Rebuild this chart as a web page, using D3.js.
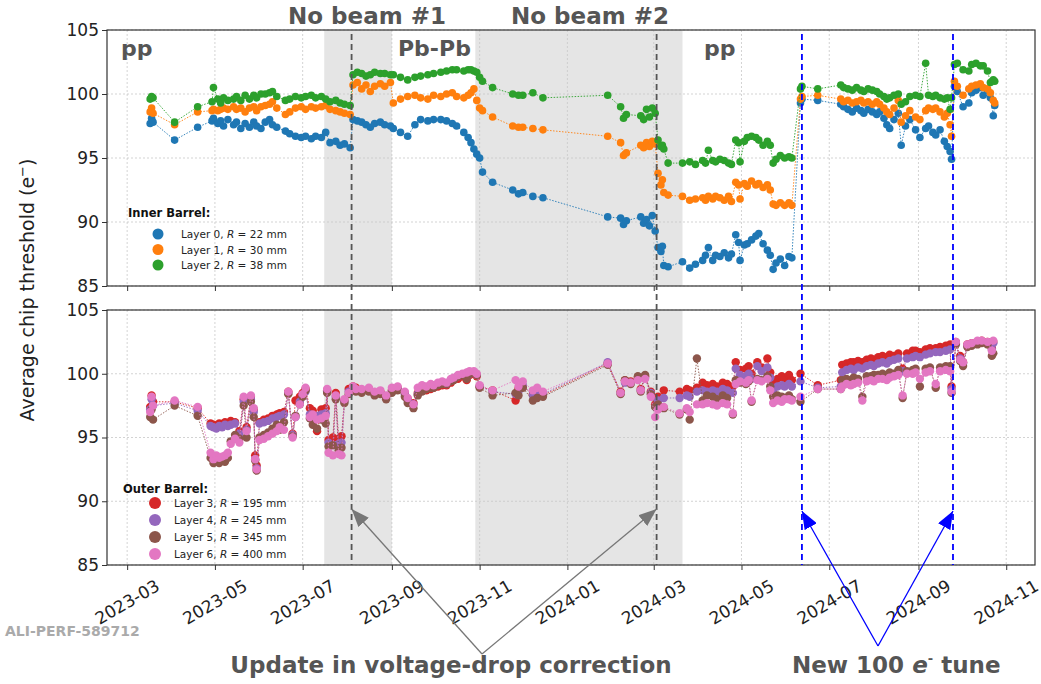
<!DOCTYPE html>
<html>
<head>
<meta charset="utf-8">
<script src="https://cdn.jsdelivr.net/npm/d3@7"></script>
<style>
  body { margin: 0; background: #fff; }
  text { font-family: 'DejaVu Sans', sans-serif; }
</style>
</head>
<body>
<div id="chart"></div>
<script>
// ---------- data ----------
const ibDates = [
  '2023-03-17','2023-03-18','2023-03-19','2023-04-03','2023-04-19','2023-04-29','2023-04-30','2023-05-03','2023-05-05','2023-05-07',
  '2023-05-10','2023-05-14','2023-05-16','2023-05-19','2023-05-22','2023-05-25','2023-05-28','2023-05-30','2023-06-02','2023-06-05',
  '2023-06-08','2023-06-10','2023-06-13','2023-06-19','2023-06-22','2023-06-26','2023-06-30','2023-07-03','2023-07-07','2023-07-10',
  '2023-07-14','2023-07-17','2023-07-20','2023-07-24','2023-07-27','2023-07-30','2023-08-03','2023-08-05','2023-08-08','2023-08-11',
  '2023-08-14','2023-08-17','2023-08-20','2023-08-24','2023-08-27','2023-08-31','2023-09-02','2023-09-07','2023-09-12','2023-09-17',
  '2023-09-21','2023-09-26','2023-09-30','2023-10-05','2023-10-09','2023-10-13','2023-10-16','2023-10-21','2023-10-24','2023-10-26',
  '2023-10-28','2023-10-30','2023-11-01','2023-11-03','2023-11-10','2023-11-24','2023-11-28','2023-12-01','2023-12-08','2023-12-15',
  '2024-01-29','2024-02-07','2024-02-09','2024-02-11','2024-02-21','2024-02-23','2024-02-25','2024-02-27','2024-02-29','2024-03-02',
  '2024-03-04','2024-03-06','2024-03-07','2024-03-08','2024-03-11','2024-03-21','2024-03-26','2024-03-30','2024-04-04','2024-04-06',
  '2024-04-08','2024-04-11','2024-04-13','2024-04-16','2024-04-19','2024-04-22','2024-04-24','2024-04-27','2024-04-29','2024-04-30',
  '2024-05-03','2024-05-05','2024-05-08','2024-05-11','2024-05-13','2024-05-16','2024-05-19','2024-05-21','2024-05-23','2024-05-25',
  '2024-05-28','2024-05-31','2024-06-03','2024-06-05','2024-06-11','2024-06-12','2024-06-23','2024-07-09','2024-07-11','2024-07-14',
  '2024-07-17','2024-07-20','2024-07-23','2024-07-25','2024-07-28','2024-07-31','2024-08-03','2024-08-05','2024-08-08','2024-08-10',
  '2024-08-12','2024-08-15','2024-08-18','2024-08-20','2024-08-23','2024-08-26','2024-08-30','2024-09-02','2024-09-06','2024-09-08',
  '2024-09-11','2024-09-13','2024-09-16','2024-09-19','2024-09-21','2024-09-23','2024-09-24','2024-09-26','2024-09-28','2024-10-02',
  '2024-10-06','2024-10-08','2024-10-11','2024-10-14','2024-10-16','2024-10-19','2024-10-21','2024-10-23','2024-10-24'
];
const layer0 = [
  97.7,98.1,97.8,96.4,97.4,97.9,98.1,97.7,97.9,97.5, 98.0,97.6,97.8,97.3,97.7,97.4,97.8,97.5,97.3,97.8,
  98.0,97.6,97.4,97.1,96.9,96.7,96.6,96.7,96.5,96.7, 96.6,97.0,96.2,96.3,96.0,96.1,95.8,98.0,97.9,97.8,
  97.6,97.4,97.7,97.8,97.6,97.5,97.3,97.0,96.7,97.6, 98.0,97.9,98.0,98.0,97.9,97.7,97.5,97.0,96.6,96.2,
  95.7,95.3,95.0,93.9,93.1,92.5,92.2,92.3,92.0,91.9, 90.4,90.3,89.8,90.1,90.4,89.9,90.2,89.7,90.5,89.3,
  88.0,87.7,88.1,86.6,86.5,86.9,86.4,86.7,87.0,87.4, 88.0,87.0,87.4,87.3,87.6,87.2,87.5,89.0,88.4,87.0,
  88.2,88.3,88.6,88.9,89.1,88.3,87.8,87.4,86.3,86.8, 87.1,86.6,87.3,87.2,99.3,99.6,99.5,99.2,99.0,98.8,
  98.6,98.9,98.7,98.5,98.8,98.6,98.4,98.6,98.1,97.6, 97.3,98.0,98.5,96.0,97.5,98.0,97.2,96.6,97.3,97.5,
  97.0,96.8,97.2,96.3,95.9,95.5,94.9,100.6,100.2,99.0, 99.3,100.1,100.3,100.5,99.9,100.3,99.7,98.3,99.1
];
const layer1 = [
  98.6,98.9,98.5,97.6,98.6,98.7,98.8,98.7,98.8,98.9, 98.8,99.0,98.8,98.9,98.6,98.9,99.0,98.7,99.0,99.1,
  99.2,99.4,98.9,98.4,98.6,98.9,99.0,98.8,99.0,98.9, 99.0,99.1,98.8,98.7,98.6,98.5,98.4,100.7,100.9,100.4,
  100.7,100.2,100.6,100.8,100.6,100.9,99.3,99.6,99.8,99.9, 99.7,99.6,99.9,99.8,100.0,100.1,99.8,99.7,99.9,100.1,
  100.4,99.5,98.9,98.7,98.2,97.5,97.4,97.4,97.3,97.2, 96.7,96.2,95.2,95.4,96.0,95.8,96.2,95.9,96.3,96.1,
  93.8,92.9,93.3,92.3,92.1,92.0,91.7,91.8,91.9,91.7, 92.0,91.8,92.0,91.9,91.7,92.0,91.6,93.1,92.9,91.8,
  93.0,92.8,93.2,92.9,93.0,92.7,92.9,92.5,91.4,91.3, 91.5,91.3,91.5,91.3,99.6,99.8,99.9,99.6,99.4,99.5,
  99.3,99.4,99.5,99.3,99.4,99.2,99.4,99.2,98.9,98.6, 98.4,98.9,99.5,97.8,98.3,98.7,98.2,98.0,98.7,98.9,
  98.8,98.9,98.6,98.2,98.5,97.6,96.7,101.0,100.6,99.9, 100.4,100.6,100.7,100.8,100.5,100.4,100.1,99.5,99.3
];
const layer2 = [
  99.6,99.8,99.7,97.8,99.0,99.4,100.5,99.6,99.3,99.7, 99.5,99.6,99.8,99.5,99.9,99.6,99.9,99.7,100.0,100.0,
  100.1,100.2,99.8,99.5,99.6,99.8,99.7,99.8,99.9,99.7, 99.8,99.6,99.4,99.5,99.3,99.2,99.1,101.5,101.7,101.6,
  101.4,101.5,101.7,101.6,101.6,101.5,101.5,101.3,101.1,101.3, 101.4,101.5,101.6,101.7,101.8,101.9,101.9,101.8,101.9,101.9,
  101.8,101.7,101.3,101.0,100.5,100.0,99.9,99.9,100.1,99.7, 99.9,99.0,98.1,98.4,98.3,98.0,98.8,98.2,98.9,98.5,
  96.4,95.9,96.0,95.7,94.6,94.6,94.7,94.5,94.8,94.6, 95.6,94.8,94.7,94.9,94.8,94.6,94.5,96.4,96.2,94.7,
  96.3,96.6,96.7,96.6,96.4,96.0,96.3,96.0,94.6,94.9, 95.2,95.0,95.1,95.0,100.4,100.6,100.4,100.7,100.5,100.4,
  100.3,100.5,100.3,100.2,100.4,100.3,100.2,100.0,99.8,99.6, 99.7,99.9,100.0,99.2,99.4,99.8,99.9,99.8,102.4,99.9,
  99.8,99.9,99.7,99.6,99.7,98.8,99.7,102.3,102.4,101.9, 101.8,102.3,102.4,102.2,102.2,101.8,100.9,101.1,101.0
];

const obDates = [
  '2023-03-17','2023-03-18','2023-03-19','2023-04-03','2023-04-19','2023-04-28','2023-04-30','2023-05-02','2023-05-04','2023-05-06',
  '2023-05-08','2023-05-10','2023-05-12','2023-05-15','2023-05-18','2023-05-21','2023-05-23','2023-05-26','2023-05-28','2023-05-29',
  '2023-05-30','2023-06-01','2023-06-04','2023-06-07','2023-06-10','2023-06-13','2023-06-15','2023-06-18','2023-06-21','2023-06-24',
  '2023-06-26','2023-06-29','2023-07-01','2023-07-03','2023-07-06','2023-07-08','2023-07-11','2023-07-14','2023-07-17','2023-07-18',
  '2023-07-19','2023-07-22','2023-07-24','2023-07-26','2023-07-28','2023-07-30','2023-08-02','2023-08-05','2023-08-07','2023-08-11',
  '2023-08-16','2023-08-20','2023-08-24','2023-08-28','2023-09-01','2023-09-05','2023-09-10','2023-09-12','2023-09-16','2023-09-19',
  '2023-09-22','2023-09-25','2023-09-28','2023-09-30','2023-10-03','2023-10-06','2023-10-09','2023-10-12','2023-10-14','2023-10-17',
  '2023-10-20','2023-10-23','2023-10-25','2023-10-28','2023-10-30','2023-11-01','2023-11-10','2023-11-26','2023-11-28','2023-12-01',
  '2023-12-08','2023-12-11','2023-12-15','2024-01-29','2024-02-07','2024-02-10','2024-02-14','2024-02-19','2024-02-21','2024-02-24',
  '2024-02-28','2024-03-02','2024-03-04','2024-03-08','2024-03-19','2024-03-24','2024-03-26','2024-03-31','2024-04-04','2024-04-07',
  '2024-04-11','2024-04-14','2024-04-18','2024-04-21','2024-04-25','2024-04-27','2024-04-30','2024-05-04','2024-05-06','2024-05-08',
  '2024-05-12','2024-05-15','2024-05-19','2024-05-21','2024-05-23','2024-05-26','2024-05-29','2024-05-31','2024-06-03','2024-06-05',
  '2024-06-11','2024-06-23','2024-07-09','2024-07-10','2024-07-13','2024-07-16','2024-07-18','2024-07-21','2024-07-24','2024-07-27',
  '2024-07-30','2024-08-01','2024-08-04','2024-08-07','2024-08-10','2024-08-12','2024-08-15','2024-08-18','2024-08-21','2024-08-24',
  '2024-08-28','2024-08-30','2024-09-02','2024-09-06','2024-09-09','2024-09-13','2024-09-16','2024-09-20','2024-09-23','2024-09-24',
  '2024-09-27','2024-09-30','2024-10-02','2024-10-05','2024-10-08','2024-10-12','2024-10-15','2024-10-19','2024-10-22','2024-10-23'
];
const layer3 = [
  97.4,98.3,97.8,97.8,97.3,96.1,96.0,95.9,96.1,96.0, 96.2,96.1,96.3,96.2,95.5,98.0,95.8,98.2,97.2,93.6,
  92.8,96.2,96.4,96.5,96.7,96.8,96.9,97.0,98.6,95.3, 97.9,98.2,98.5,98.8,97.3,97.1,95.5,97.2,97.3,98.7,
  94.8,95.0,98.5,94.9,95.1,97.9,98.8,99.0,98.9,98.7, 98.8,98.5,98.6,98.2,98.7,98.9,98.5,98.0,97.7,98.5,
  98.7,98.7,98.8,98.9,99.0,99.1,99.1,99.3,99.5,99.6, 99.8,99.5,99.9,100.0,99.8,99.0,98.7,97.9,98.8,99.0,
  98.4,98.5,98.3,100.8,98.6,99.5,99.4,99.7,98.8,99.8, 98.6,97.6,98.2,98.7,98.6,98.8,98.7,98.9,99.3,99.1,
  99.2,99.0,99.3,99.2,99.0,100.9,100.3,100.4,100.6,100.0, 100.9,100.5,101.2,100.1,99.3,99.6,99.8,99.6,99.9,99.5,
  100.0,99.1,99.5,100.7,100.8,100.9,100.9,101.0,100.9,101.1, 101.2,101.1,101.3,101.4,101.3,101.5,101.4,101.6,100.4,101.6,
  101.8,101.8,101.7,101.9,102.0,102.0,102.1,102.2,102.3,99.0, 102.5,101.4,100.9,102.3,102.4,102.5,102.6,102.5,102.0,102.5
];
const layer4 = [
  97.2,98.0,97.5,97.7,97.1,95.9,95.8,95.7,95.9,95.8, 96.0,95.9,96.0,96.1,95.3,97.8,95.6,98.0,97.0,93.3,
  92.6,96.1,96.2,96.3,96.5,96.6,96.7,96.8,98.5,95.2, 96.6,97.8,98.3,98.6,96.8,96.6,96.7,96.8,96.9,98.6,
  94.6,94.4,98.2,94.5,94.6,97.8,98.6,98.9,98.7,98.6, 98.7,98.4,98.5,98.1,98.6,98.8,98.4,97.9,97.6,98.4,
  98.8,98.9,99.0,99.0,99.2,99.3,99.2,99.5,99.6,99.8, 99.9,99.7,100.0,100.1,99.9,99.0,98.6,98.4,98.6,99.1,
  98.3,98.4,98.4,100.9,98.5,99.3,99.3,99.6,98.7,99.7, 98.5,97.4,97.9,98.1,98.1,98.3,98.2,98.6,98.7,98.6,
  98.7,98.6,98.8,98.7,98.5,100.4,99.9,99.8,100.0,99.6, 100.6,100.2,100.5,99.7,98.7,99.0,99.1,99.0,99.2,99.0,
  99.4,98.9,99.0,100.1,100.3,100.4,100.3,100.5,100.4,100.6, 100.7,100.6,100.8,100.9,100.8,101.0,101.1,101.2,100.2,101.2,
  101.3,101.4,101.3,101.5,101.6,101.7,101.7,101.8,101.9,98.8, 102.4,101.2,100.8,102.2,102.3,102.4,102.5,102.4,101.9,102.4
];
const layer5 = [
  96.6,97.2,96.4,97.5,96.7,93.4,93.0,93.2,93.0,93.3, 93.1,93.4,94.7,95.2,94.9,97.5,95.0,97.8,96.6,93.2,
  92.4,95.0,95.2,95.4,95.7,96.0,95.6,96.2,98.4,95.1, 96.7,97.6,98.2,98.7,96.5,96.0,95.7,96.4,96.1,98.5,
  94.3,94.4,98.0,94.0,94.2,97.7,98.4,98.8,98.6,98.5, 98.6,98.3,98.4,98.0,98.5,98.7,98.2,97.7,97.3,98.3,
  98.6,98.8,98.9,98.9,99.1,99.2,99.2,99.4,99.5,99.8, 99.9,99.6,100.0,100.1,99.9,98.9,98.3,98.5,98.3,98.9,
  97.9,98.1,98.2,100.7,98.4,99.5,99.2,99.8,98.6,99.9, 98.4,97.4,97.6,97.3,96.8,97.2,96.4,101.2,97.9,98.3,
  98.2,98.0,98.3,98.1,96.8,99.5,99.3,99.2,99.4,97.8, 99.6,99.5,99.8,99.0,98.2,98.3,98.2,98.1,98.3,98.0,
  97.8,98.8,98.8,99.5,99.6,99.5,99.7,99.6,98.2,99.8, 99.8,99.9,99.9,100.0,99.9,100.1,100.0,100.3,98.1,100.2,
  100.3,100.4,99.0,100.4,100.5,98.9,100.5,100.6,100.6,98.5, 102.3,101.0,100.6,102.1,102.2,102.3,102.4,102.3,101.4,101.6
];
const layer6 = [
  97.0,98.2,97.5,97.9,97.4,93.8,93.3,93.6,93.4,93.5, 93.6,93.8,94.5,94.9,94.6,98.2,95.5,98.3,97.3,93.3,
  92.5,94.8,94.9,95.1,95.3,95.5,95.8,95.6,98.6,95.0, 96.6,97.6,98.4,98.9,96.6,96.8,96.4,96.5,96.7,98.8,
  93.8,93.6,98.3,93.7,93.6,98.0,98.5,99.0,98.8,98.8, 98.9,98.6,98.7,98.3,98.9,99.0,98.6,98.1,97.6,98.9,
  99.1,99.0,99.2,99.1,99.3,99.4,99.3,99.6,99.7,99.9, 100.0,100.1,100.2,100.2,100.0,99.1,98.7,99.5,99.0,99.4,
  98.7,98.9,98.6,100.8,98.5,99.4,99.3,99.5,98.7,99.6, 98.2,96.6,97.2,97.4,96.9,97.3,97.0,97.6,97.6,97.7,
  97.6,97.5,97.7,97.6,96.9,99.2,99.4,99.3,99.5,97.9, 99.5,99.4,99.6,98.7,97.7,97.9,97.8,98.0,98.0,97.9,
  98.2,98.8,98.8,99.0,99.2,99.1,99.2,99.3,97.9,99.4, 99.5,99.4,99.6,99.6,99.5,99.7,99.8,99.9,98.3,100.0,
  100.0,100.1,99.6,100.1,100.2,99.2,100.2,100.3,100.2,98.6, 102.5,101.1,100.9,102.3,102.4,102.6,102.6,102.5,101.8,102.6
];

const monthTicks = ['2023-03','2023-05','2023-07','2023-09','2023-11','2024-01','2024-03','2024-05','2024-07','2024-09','2024-11'];
const yTicks = [85, 90, 95, 100, 105];
const noBeamPeriods = [['2023-07-16', '2023-09-01'], ['2023-10-29', '2024-03-21']];
const correctionDates = ['2023-08-04', '2024-03-03'];
const tuneDates = ['2024-06-12', '2024-09-25'];

// ---------- layout ----------
const width = 1041, height = 684;
const parseDate = d3.timeParse('%Y-%m-%d');
const parseMonth = d3.timeParse('%Y-%m');
const labelFont = "'Liberation Sans', Arial, sans-serif";

const svg = d3.select('#chart').append('svg')
  .attr('width', width)
  .attr('height', height);

const x = d3.scaleTime()
  .domain([parseDate('2023-02-15'), parseDate('2024-11-21')])
  .range([107, 1035]);

const panels = [
  {
    top: 30, bottom: 286, dates: ibDates, r: 3.8,
    title: 'Inner Barrel:',
    series: [
      {values: layer0, color: '#1f77b4', name: 'Layer 0', radius: '22'},
      {values: layer1, color: '#ff7f0e', name: 'Layer 1', radius: '30'},
      {values: layer2, color: '#2ca02c', name: 'Layer 2', radius: '38'}
    ],
    legend: {tx: 128, ty: 217, cx: 158, lx: 181, y0: 234, step: 15.5, r: 5.5}
  },
  {
    top: 310, bottom: 565, dates: obDates, r: 4.2,
    title: 'Outer Barrel:',
    series: [
      {values: layer3, color: '#d62728', name: 'Layer 3', radius: '195'},
      {values: layer4, color: '#9467bd', name: 'Layer 4', radius: '245'},
      {values: layer5, color: '#8c564b', name: 'Layer 5', radius: '345'},
      {values: layer6, color: '#e377c2', name: 'Layer 6', radius: '400'}
    ],
    legend: {tx: 123, ty: 493, cx: 155, lx: 174, y0: 503, step: 17, r: 6}
  }
];

panels.forEach((p, pi) => {
  let y = d3.scaleLinear().domain([85, 105]).range([p.bottom, p.top]);
  let g = svg.append('g');

  // no-beam shading
  g.selectAll('rect.shade')
    .data(noBeamPeriods)
    .enter().append('rect')
    .attr('x', d => x(parseDate(d[0])))
    .attr('y', p.top)
    .attr('width', d => x(parseDate(d[1])) - x(parseDate(d[0])))
    .attr('height', p.bottom - p.top)
    .attr('fill', '#e5e5e5');

  // grid
  g.selectAll('line.vgrid')
    .data(monthTicks)
    .enter().append('line')
    .attr('x1', d => x(parseMonth(d))).attr('x2', d => x(parseMonth(d)))
    .attr('y1', p.top).attr('y2', p.bottom)
    .attr('stroke', '#c8c8c8').attr('stroke-width', 0.8)
    .attr('stroke-dasharray', '2,2');
  g.selectAll('line.hgrid')
    .data(yTicks)
    .enter().append('line')
    .attr('x1', 107).attr('x2', 1035)
    .attr('y1', d => y(d)).attr('y2', d => y(d))
    .attr('stroke', '#c8c8c8').attr('stroke-width', 0.8)
    .attr('stroke-dasharray', '2,2');

  // series
  let line = d3.line()
    .x(d => x(d.date))
    .y(d => y(d.value));

  p.series.forEach(s => {
    let pts = p.dates.map((d, i) => ({date: parseDate(d), value: s.values[i]}));
    g.append('path')
      .datum(pts)
      .attr('d', line)
      .attr('fill', 'none')
      .attr('stroke', s.color)
      .attr('stroke-width', 0.9)
      .attr('stroke-dasharray', '1.5,1.5');
    g.append('g').selectAll('circle')
      .data(pts)
      .enter().append('circle')
      .attr('cx', d => x(d.date))
      .attr('cy', d => y(d.value))
      .attr('r', p.r)
      .attr('fill', s.color);
  });

  // axes
  let yAxis = g.append('g')
    .attr('transform', 'translate(107,0)')
    .call(d3.axisLeft(y).tickValues(yTicks).tickSize(5).tickPadding(3));
  yAxis.select('.domain').remove();
  yAxis.selectAll('line').attr('stroke', '#333');
  yAxis.selectAll('text').attr('font-size', 17).attr('fill', '#222')
    .attr('font-family', "'DejaVu Sans', sans-serif");

  let xAxis = g.append('g')
    .attr('transform', 'translate(0,' + p.bottom + ')')
    .call(d3.axisBottom(x).tickValues(monthTicks.map(parseMonth)).tickSize(5).tickFormat(''));
  xAxis.select('.domain').remove();
  xAxis.selectAll('line').attr('stroke', '#333');

  // frame
  g.append('rect')
    .attr('x', 107).attr('y', p.top)
    .attr('width', 1035 - 107).attr('height', p.bottom - p.top)
    .attr('fill', 'none').attr('stroke', '#333').attr('stroke-width', 1.2);

  // legend
  let L = p.legend;
  g.append('text')
    .attr('x', L.tx).attr('y', L.ty)
    .attr('font-family', labelFont).attr('font-weight', 'bold')
    .attr('font-size', 11.5).attr('fill', '#111')
    .text(p.title);
  let items = g.selectAll('g.leg')
    .data(p.series)
    .enter().append('g')
    .attr('transform', (d, i) => 'translate(0,' + (L.y0 + i * L.step) + ')');
  items.append('circle')
    .attr('cx', L.cx).attr('cy', 0).attr('r', L.r)
    .attr('fill', d => d.color);
  let lt = items.append('text')
    .attr('x', L.lx).attr('y', 4)
    .attr('font-family', labelFont).attr('font-size', 10.5).attr('fill', '#222');
  lt.append('tspan').text(d => d.name + ', ');
  lt.append('tspan').attr('font-style', 'italic').text('R');
  lt.append('tspan').text(d => ' = ' + d.radius + ' mm');
});

// x tick labels (bottom panel only)
svg.append('g').selectAll('text')
  .data(monthTicks)
  .enter().append('text')
  .attr('transform', d => 'translate(' + x(parseMonth(d)) + ',602) rotate(-30)')
  .attr('text-anchor', 'middle')
  .attr('dominant-baseline', 'central')
  .attr('font-size', 17).attr('fill', '#222')
  .text(d => d);

// y label
let yl = svg.append('text')
  .attr('transform', 'translate(34,290) rotate(-90)')
  .attr('text-anchor', 'middle')
  .attr('font-size', 19).attr('fill', '#222');
yl.append('tspan').text('Average chip threshold (e');
yl.append('tspan').attr('font-size', 13).attr('dy', -7).text('\u2212');
yl.append('tspan').attr('dy', 7).text(')');

// vertical markers
svg.selectAll('line.corr')
  .data(correctionDates)
  .enter().append('line')
  .attr('x1', d => x(parseDate(d))).attr('x2', d => x(parseDate(d)))
  .attr('y1', 34).attr('y2', 565)
  .attr('stroke', '#555').attr('stroke-width', 1.8)
  .attr('stroke-dasharray', '6,4');
svg.selectAll('line.tune')
  .data(tuneDates)
  .enter().append('line')
  .attr('x1', d => x(parseDate(d))).attr('x2', d => x(parseDate(d)))
  .attr('y1', 34).attr('y2', 565)
  .attr('stroke', '#0000ff').attr('stroke-width', 1.8)
  .attr('stroke-dasharray', '6,4');

// period labels
const boldText = (tx, ty, size, str, anchor) => svg.append('text')
  .attr('x', tx).attr('y', ty)
  .attr('text-anchor', anchor || 'start')
  .attr('font-family', labelFont).attr('font-weight', 'bold')
  .attr('font-size', size).attr('fill', '#555')
  .text(str);

boldText(367, 24, 23, 'No beam #1', 'middle');
boldText(590, 24, 23, 'No beam #2', 'middle');
boldText(121, 56, 22, 'pp');
boldText(398, 56, 22, 'Pb-Pb');
boldText(704, 56, 22, 'pp');

// annotation arrows
let defs = svg.append('defs');
[['headGray', '#777'], ['headBlue', '#0000ff']].forEach(m => {
  defs.append('marker')
    .attr('id', m[0])
    .attr('markerUnits', 'userSpaceOnUse')
    .attr('markerWidth', 18).attr('markerHeight', 14)
    .attr('refX', 18).attr('refY', 7)
    .attr('orient', 'auto')
    .append('path')
    .attr('d', 'M0,0 L18,7 L0,14 Z')
    .attr('fill', m[1]);
});

const arrow = (x1, y1, tipDate, y2, color, head) => svg.append('line')
  .attr('x1', x1).attr('y1', y1)
  .attr('x2', x(parseDate(tipDate))).attr('y2', y2)
  .attr('stroke', color).attr('stroke-width', 1.3)
  .attr('marker-end', 'url(#' + head + ')');

correctionDates.forEach(d => arrow(482, 654, d, 509, '#777', 'headGray'));
tuneDates.forEach(d => arrow(878, 646, d, 511, '#0000ff', 'headBlue'));

boldText(451, 673, 23, 'Update in voltage-drop correction', 'middle');
let tune = boldText(792, 673, 23, 'New 100 ');
tune.append('tspan').attr('font-style', 'italic').text('e');
tune.append('tspan').attr('font-size', 13).attr('dy', -10).text('-');
tune.append('tspan').attr('dy', 10).text(' tune');

// preliminary figure id
svg.append('text')
  .attr('x', 5).attr('y', 636)
  .attr('font-family', "'Liberation Mono', 'DejaVu Sans Mono', monospace")
  .attr('font-weight', 'bold').attr('font-size', 14)
  .attr('fill', '#aaa')
  .text('ALI-PERF-589712');
</script>
</body>
</html>
